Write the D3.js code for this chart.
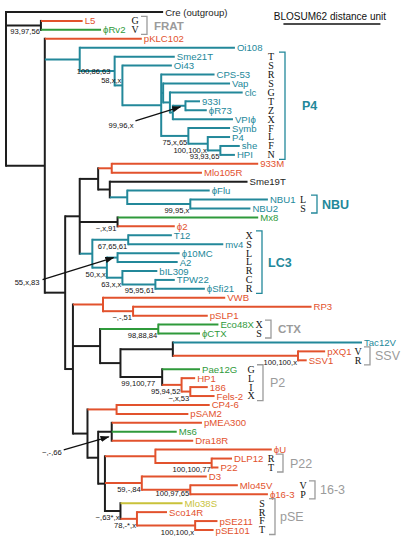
<!DOCTYPE html>
<html><head><meta charset="utf-8">
<script src="https://cdn.jsdelivr.net/npm/d3@7"></script>
<style>body{margin:0;background:#fff}svg{display:block}</style>
</head><body>
<script>
// ---------- DATA ----------
const leafNames = ["Cre (outgroup)","L5","ϕRv2","pKLC102","Oi108","Sme21T","Oi43","CPS-53","Vap","clc","933I","ϕR73","VPIϕ","Symb","P4","she","HPI","933M","Mlo105R","Sme19T","ϕFlu","NBU1","NBU2","Mx8","ϕ2","T12","mv4","ϕ10MC","A2","bIL309","TPW22","ϕSfi21","VWB","RP3","pSLP1","Eco48X","ϕCTX","Tac12V","pXQ1","SSV1","Pae12G","HP1","186","Fels-2","CP4-6","pSAM2","pMEA300","Ms6","Dra18R","ϕU","DLP12","P22","D3","Mlo45V","ϕ16-3","Mlo38S","Sco14R","pSE211","pSE101"];
// distance from root (BLOSUM62 units)
const leafDepth = [1.62,0.79,0.98,1.40,2.36,1.74,1.71,2.15,2.31,2.44,2.00,2.07,2.34,2.31,2.31,2.41,2.36,2.60,2.02,2.49,2.10,2.70,2.52,2.60,1.74,1.71,2.24,1.79,1.77,1.56,1.74,2.05,2.26,3.15,2.08,2.19,2.00,3.67,3.29,3.10,2.00,1.95,2.08,2.15,2.10,1.88,2.02,1.76,1.93,2.74,2.33,2.19,2.07,2.39,2.70,1.82,1.66,2.18,2.14];
// host group of each leaf
const leafGroup = ["k","r","g","r","t","t","t","t","t","t","t","t","t","t","t","t","t","r","r","k","t","t","t","g","r","t","t","t","t","t","t","t","r","r","r","g","g","t","r","r","g","r","r","r","r","r","r","g","r","r","r","r","r","r","r","y","r","r","r"];

const cladeChildren = [
 ["root",["Cre (outgroup)","nFRAT","n45"]],
 ["nFRAT",["L5","ϕRv2"]],
 ["n45",["pKLC102","nP4","n65"]],
 ["nP4",["Oi108","n1"]],
 ["n1",["Sme21T","n2"]],
 ["n2",["Oi43","n3"]],
 ["n3",["CPS-53","n4","nSym"]],
 ["n4",["Vap","n5"]],
 ["n5",["clc","n6"]],
 ["n6",["n933","VPIϕ"]],
 ["n933",["933I","ϕR73"]],
 ["nSym",["Symb","nP4b"]],
 ["nP4b",["P4","nShe"]],
 ["nShe",["she","HPI"]],
 ["n65",["n80","n73"]],
 ["n80",["nX","nMx","nLC3"]],
 ["nX",["nR","nY"]],
 ["nR",["933M","Mlo105R"]],
 ["nY",["Sme19T","nF"]],
 ["nF",["ϕFlu","nNBU"]],
 ["nNBU",["NBU1","NBU2"]],
 ["nMx",["Mx8","ϕ2"]],
 ["nLC3",["nT12","nB"]],
 ["nT12",["T12","mv4"]],
 ["nB",["nPhi10","nC"]],
 ["nPhi10",["ϕ10MC","A2"]],
 ["nC",["bIL309","nTPW"]],
 ["nTPW",["TPW22","ϕSfi21"]],
 ["n73",["nVWB","n100","n87"]],
 ["nVWB",["VWB","nRP3"]],
 ["nRP3",["RP3","pSLP1"]],
 ["n100",["nCTX","n120"]],
 ["nCTX",["Eco48X","ϕCTX"]],
 ["n120",["nTac","nP2"]],
 ["nTac",["Tac12V","nSSV"]],
 ["nSSV",["pXQ1","SSV1"]],
 ["nP2",["Pae12G","nHP1"]],
 ["nHP1",["HP1","n186"]],
 ["n186",["186","Fels-2"]],
 ["n87",["nCP4","n98"]],
 ["nCP4",["CP4-6","pSAM2"]],
 ["n98",["nMEA","n105"]],
 ["nMEA",["pMEA300","Ms6","Dra18R"]],
 ["n105",["nPhiU","nD3","nPSE"]],
 ["nPhiU",["ϕU","nDLP"]],
 ["nDLP",["DLP12","P22"]],
 ["nD3",["D3","nMlo45"]],
 ["nMlo45",["Mlo45V","ϕ16-3"]],
 ["nPSE",["Mlo38S","nSco"]],
 ["nSco",["Sco14R","nPSEp"]],
 ["nPSEp",["pSE211","pSE101"]]
];
const internalDepth = [
 ["root",0],["nFRAT",0.36],["n45",0.40],["nP4",0.76],["n1",1.12],["n2",1.20],["n3",1.60],["n4",1.62],["n5",1.69],["n6",1.72],["n933",1.85],["nSym",1.88],["nP4b",2.08],["nShe",2.21],
 ["n65",0.61],["n80",0.76],["nX",0.95],["nR",1.09],["nY",1.07],["nF",1.25],["nNBU",1.90],["nMx",1.15],["nLC3",0.89],["nT12",1.26],["nB",1.04],["nPhi10",1.15],["nC",1.20],["nTPW",1.54],
 ["n73",0.69],["nVWB",1.00],["nRP3",1.31],["n100",0.97],["nCTX",1.57],["n120",1.18],["nTac",1.72],["nSSV",3.01],["nP2",1.61],["nHP1",1.81],["n186",1.90],
 ["n87",0.84],["nCP4",1.14],["n98",0.95],["nMEA",1.09],["n105",1.02],["nPhiU",1.54],["nDLP",2.12],["nD3",1.40],["nMlo45",1.90],["nPSE",1.18],["nSco",1.35],["nPSEp",1.95]
];
const residues = [["L5","G"],["ϕRv2","V"],["Sme21T","T"],["Oi43","S"],["CPS-53","R"],["Vap","S"],["clc","G"],["933I","T"],["ϕR73","Z"],["VPIϕ","X"],["Symb","F"],["P4","L"],["she","F"],["HPI","N"],["NBU1","L"],["NBU2","S"],["T12","X"],["mv4","S"],["ϕ10MC","L"],["A2","L"],["bIL309","R"],["TPW22","C"],["ϕSfi21","R"],["Eco48X","X"],["ϕCTX","S"],["pXQ1","V"],["SSV1","R"],["Pae12G","G"],["HP1","L"],["186","I"],["Fels-2","X"],["DLP12","R"],["P22","T"],["Mlo45V","V"],["ϕ16-3","P"],["Mlo38S","S"],["Sco14R","R"],["pSE211","F"],["pSE101","T"]];
const cladeGroups = [["FRAT","L5","ϕRv2","gray"],["P4","Sme21T","HPI","teal"],["NBU","NBU1","NBU2","teal"],["LC3","T12","ϕSfi21","teal"],["CTX","Eco48X","ϕCTX","gray"],["SSV","pXQ1","SSV1","gray"],["P2","Pae12G","Fels-2","gray"],["P22","DLP12","P22","gray"],["16-3","Mlo45V","ϕ16-3","gray"],["pSE","Mlo38S","pSE101","gray"]];
const support = [["nFRAT","93,97,56"],["nP4","100,86,63"],["n2","58,x,x"],["nSym","75,x,65"],["nP4b","100,100,x"],["nShe","93,93,65"],["nNBU","99,95,x"],["nMx","~,x,91"],["nT12","67,65,61"],["nB","50,x,x"],["nC","63,x,x"],["nTPW","95,95,61"],["nRP3","~,-,51"],["nCTX","98,88,84"],["nSSV","100,100,x"],["nP2","99,100,77"],["nHP1","95,94,52"],["n186","~,x,53"],["nDLP","100,100,77"],["nD3","59,-,84"],["nMlo45","100,97,65"],["nPSE","~,63*,x"],["nSco","78,-*,x"],["nPSEp","100,100,x"]];
const supportArrows = [["n933","99,96,x"],["nPhi10","55,x,83"],["nMEA","~,-,66"]];
const scaleLabel = "BLOSUM62 distance unit";

// ---------- STYLE / LAYOUT ----------
const W = 404, H = 543;
const palette = {k:"#1e1e1e", r:"#e2522d", g:"#2f9a3b", t:"#23889a", y:"#c9c23a"};
const cladeColor = {gray:"#9b9b9b", teal:"#23889a"};
const cladePlace = { // letters x, bracket x, name x, bold, size
 FRAT:[135,147,154,true,11.5], P4:[271,285,302,true,12.5], NBU:[303,317,322,true,12.5], LC3:[249,262,268,true,12.5],
 CTX:[259,271,278,true,11.5], SSV:[358,370,375,false,12.5], P2:[251,263,270,false,12.5], P22:[271,283,290,false,12.5],
 "16-3":[303,315,320,false,12.5], pSE:[262,275,280,false,12.5]};
const supportPlace = {nP4:{anchor:"start",dx:-2,dy:15}, n2:{dy:-2.5}, nP2:{dx:-6}, nMlo45:{dy:6}};
const arrowPlace = {n933:{tx:-52,ty:22,ax:-50,ay:15,hx:-5,hy:1}, nPhi10:{tx:-78,ty:27.5,ax:-75,ay:22,hx:-4,hy:0}, nMEA:{tx:-50,ty:23,ax:-48,ay:18,hx:-3,hy:5}};

const svg = d3.select("body").append("svg").attr("width",W).attr("height",H);
svg.append("rect").attr("width",W).attr("height",H).attr("fill","#fff");

const x = d3.scaleLinear().domain([0,1]).range([6,103]);
const y = d3.scalePoint().domain(leafNames).range([12,530]);

const childMap = new Map(cladeChildren);
const depthMap = new Map(internalDepth);
leafNames.forEach((n,i)=>depthMap.set(n,leafDepth[i]));
const groupMap = new Map(leafNames.map((n,i)=>[n,leafGroup[i]]));
function build(id){ const c = childMap.get(id); return c ? {id, children:c.map(build)} : {id}; }
const root = d3.hierarchy(build("root"));
root.eachAfter(d=>{
  d.px = x(depthMap.get(d.data.id));
  if(!d.children){ d.py = y(d.data.id); d.grp = groupMap.get(d.data.id); }
  else {
    d.py = (d.children[0].py + d.children[d.children.length-1].py)/2;
    const gs = new Set(d.children.map(c=>c.grp));
    d.grp = gs.size===1 ? d.children[0].grp : "k";
  }
});
const byId = new Map(root.descendants().map(d=>[d.data.id,d]));

const g = svg.append("g").attr("fill","none").attr("stroke-width",2).attr("stroke-linecap","square");
// verticals
g.selectAll(".v").data(root.descendants().filter(d=>d.children)).join("line")
  .attr("x1",d=>d.px).attr("x2",d=>d.px)
  .attr("y1",d=>d.children[0].py).attr("y2",d=>d.children[d.children.length-1].py)
  .attr("stroke",d=>palette[d.grp]);
// horizontals
g.selectAll(".h").data(root.descendants().filter(d=>d.parent)).join("line")
  .attr("x1",d=>d.parent.px).attr("x2",d=>d.px)
  .attr("y1",d=>d.py).attr("y2",d=>d.py)
  .attr("stroke",d=>palette[d.grp]).attr("stroke-linecap","butt");

const sans = "'Liberation Sans', Arial, Helvetica, sans-serif";
// leaf labels
svg.append("g").selectAll("text").data(root.leaves()).join("text")
  .attr("x",d=>d.px+2).attr("y",d=>d.py+3.5)
  .attr("font-family",sans).attr("font-size",9.6)
  .attr("fill",d=>palette[d.grp]).text(d=>d.data.id);

// support values
svg.append("g").selectAll("text").data(support).join("text")
  .each(function([id,t]){
    const n = byId.get(id), p = supportPlace[id]||{};
    d3.select(this).attr("x",n.px-1+(p.dx||0)).attr("y",n.py+(p.dy!==undefined?p.dy:9))
      .attr("text-anchor",p.anchor||"end").text(t);
  })
  .attr("font-family",sans).attr("font-size",7.6).attr("fill","#111");

// arrows
svg.append("defs").append("marker").attr("id","ah").attr("viewBox","0 0 10 10")
  .attr("refX",9).attr("refY",5).attr("markerWidth",7).attr("markerHeight",7).attr("orient","auto")
  .append("path").attr("d","M0,1.5L10,5L0,8.5Z").attr("fill","#111");
const ag = svg.append("g");
supportArrows.forEach(([id,t])=>{
  const n = byId.get(id), p = arrowPlace[id];
  ag.append("text").attr("x",n.px+p.tx).attr("y",n.py+p.ty).attr("text-anchor","end")
    .attr("font-family",sans).attr("font-size",7.6).attr("fill","#111").text(t);
  ag.append("line").attr("x1",n.px+p.ax).attr("y1",n.py+p.ay).attr("x2",n.px+p.hx).attr("y2",n.py+p.hy)
    .attr("stroke","#111").attr("stroke-width",1.3).attr("marker-end","url(#ah)");
});

// residues
const cladeOfLeaf = new Map();
cladeGroups.forEach(([name,a,b])=>{
  const i0 = leafNames.indexOf(a), i1 = leafNames.indexOf(b);
  for(let i=i0;i<=i1;i++) cladeOfLeaf.set(leafNames[i],name);
});
svg.append("g").selectAll("text").data(residues).join("text")
  .attr("x",d=>cladePlace[cladeOfLeaf.get(d[0])][0])
  .attr("y",d=>y(d[0])+3.4)
  .attr("text-anchor","middle").attr("font-family","'Liberation Serif','Times New Roman',serif")
  .attr("font-size",10).attr("fill","#111").text(d=>d[1]);

// brackets and clade names
const cg = svg.append("g");
cladeGroups.forEach(([name,a,b,col])=>{
  const [lx,bx,nx,bold,fs] = cladePlace[name];
  const y0 = y(a)-4.5, y1 = y(b)+4.5, c = cladeColor[col];
  cg.append("path").attr("d",`M${bx-6},${y0}H${bx}V${y1}H${bx-6}`)
    .attr("fill","none").attr("stroke",c).attr("stroke-width",1.3);
  cg.append("text").attr("x",nx).attr("y",(y0+y1)/2+fs*0.36)
    .attr("font-family",sans).attr("font-size",fs).attr("font-weight",bold?"bold":"normal")
    .attr("fill",c).text(name);
});

// scale bar
svg.append("text").attr("x",(x(2.86)+x(3.86))/2 - 2).attr("y",20).attr("text-anchor","middle")
  .attr("font-family",sans).attr("font-size",10).attr("fill","#111").text(scaleLabel);
svg.append("line").attr("x1",x(2.86)).attr("x2",x(3.86)).attr("y1",24).attr("y2",24)
  .attr("stroke","#111").attr("stroke-width",1.5);
</script>
</body></html>
